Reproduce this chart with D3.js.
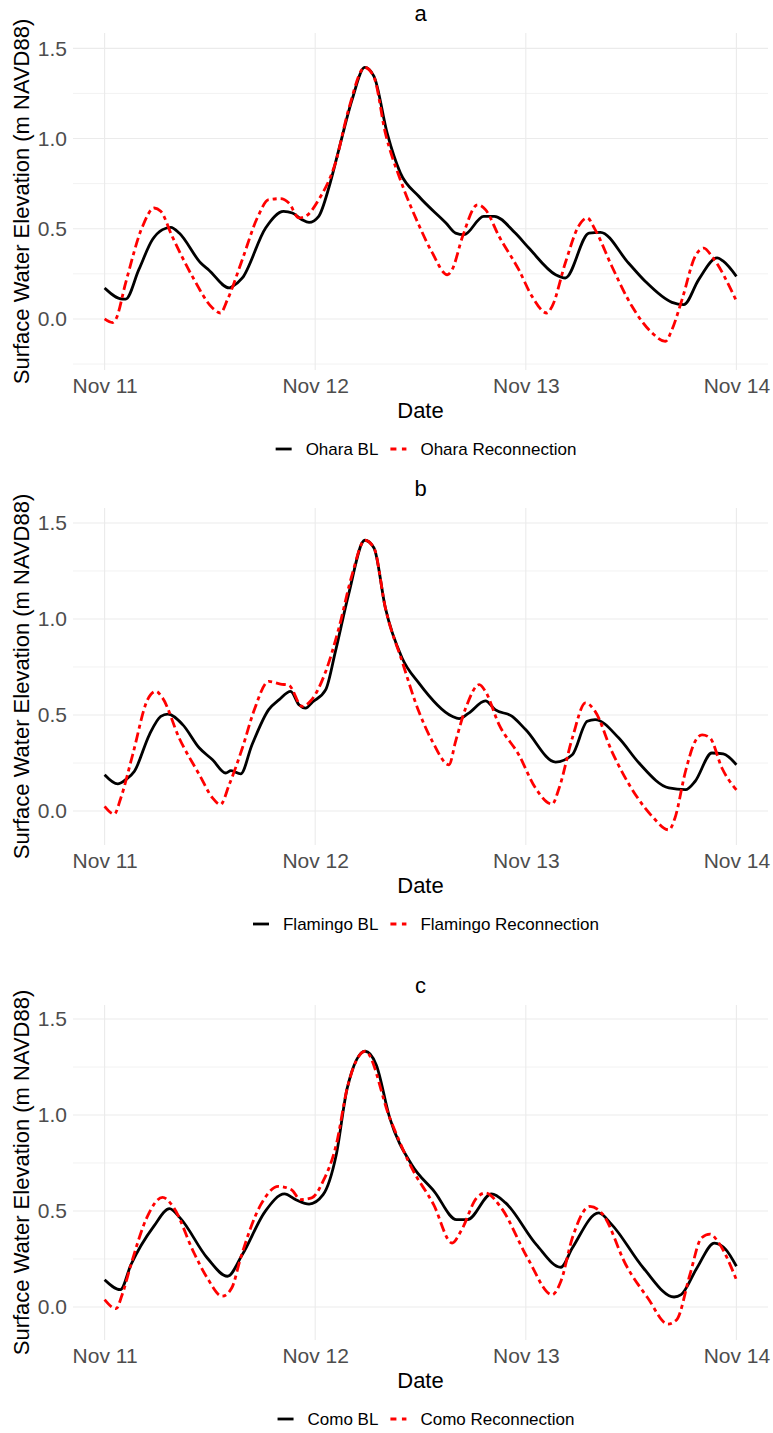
<!DOCTYPE html>
<html>
<head>
<meta charset="utf-8">
<script src="https://cdn.jsdelivr.net/npm/d3@7"></script>
<style>
  body { margin: 0; background: #fff; }
  text { font-family: "Liberation Sans", Arial, sans-serif; }
</style>
</head>
<body>
<div id="chart"></div>
<script>
const w = 773;
const h = 1433;

// data: [hours since Nov 11 00:00, surface water elevation (m NAVD88)]
const oharaBL = [[0,0.172],[2.05,0.11],[2.4,0.11],[3.9,0.273],[5.46,0.44],[6.6,0.495],[7.55,0.508],[8.5,0.476],
  [10.96,0.31],[11.9,0.27],[14.2,0.172],[14.56,0.18],[15.7,0.227],[18.35,0.504],[20.4,0.596],[21.4,0.587],
  [22.5,0.55],[23.3,0.535],[24.4,0.569],[25.6,0.735],[26.7,0.94],[28.2,1.215],[29.65,1.394],[30.7,1.345],
  [32.2,1.03],[33.7,0.81],[35.8,0.68],[38.9,0.532],[40.0,0.476],[40.95,0.467],[43.2,0.569],[44.4,0.569],
  [46.8,0.476],[48.35,0.393],[51.4,0.245],[52.5,0.227],[55.2,0.476],[56.5,0.48],[59.7,0.31],[61.6,0.209],
  [64.65,0.092],[66,0.079],[67.7,0.218],[69.8,0.338],[70.5,0.32],[72,0.236]];
const oharaRC = [[0,0.0],[0.9,-0.02],[1.3,0.0],[2.4,0.2],[4.3,0.51],[5.65,0.615],[6.4,0.597],[7.7,0.458],
  [10.0,0.236],[12.3,0.061],[13.2,0.033],[14.0,0.107],[15.7,0.33],[17.4,0.56],[18.7,0.661],[20.05,0.667],
  [21.0,0.643],[22.15,0.56],[22.9,0.569],[24.4,0.661],[26.3,0.864],[27.8,1.16],[29.65,1.394],[30.7,1.34],
  [32.0,1.03],[33.7,0.772],[35.8,0.522],[37.35,0.366],[39.05,0.245],[39.6,0.273],[40.8,0.458],[42.5,0.633],
  [43.4,0.606],[44.95,0.458],[47.2,0.273],[48.7,0.126],[50.4,0.033],[51.0,0.07],[52.5,0.31],[54.0,0.513],
  [55.0,0.56],[55.9,0.495],[57.8,0.292],[60.1,0.07],[62.4,-0.078],[63.9,-0.124],[64.65,-0.06],[65.8,0.107],
  [67.3,0.347],[68.3,0.393],[69.2,0.347],[72,0.1]];
const flamingoBL = [[0,0.189],[1.5,0.141],[2.4,0.163],[3.4,0.207],[5.1,0.397],[6.4,0.493],[7.2,0.505],[8.9,0.45],
  [10.8,0.328],[12.3,0.267],[13.8,0.198],[14.4,0.21],[15.5,0.193],[16.8,0.345],[18.7,0.528],[19.9,0.58],
  [21.2,0.623],[22.15,0.553],[22.9,0.536],[23.7,0.568],[25.2,0.632],[26.3,0.83],[27.8,1.127],[29.65,1.41],
  [30.7,1.37],[32.0,1.057],[33.9,0.797],[35.8,0.667],[39.6,0.493],[40.4,0.481],[41.5,0.51],[43.4,0.574],
  [44.5,0.528],[46.45,0.493],[48.0,0.423],[51.4,0.255],[53.3,0.293],[55.0,0.467],[55.9,0.476],[58.6,0.38],
  [60.9,0.25],[64.3,0.12],[66.2,0.111],[67.3,0.155],[69.2,0.302],[70.5,0.297],[72,0.241]];
const flamingoRC = [[0,0.024],[1.1,-0.016],[1.85,0.068],[3.2,0.293],[4.9,0.58],[5.85,0.623],[6.6,0.589],[8.5,0.38],
  [10.8,0.189],[12.3,0.068],[13.2,0.033],[14.2,0.137],[15.7,0.328],[17.0,0.519],[18.7,0.675],[20.05,0.661],
  [21.0,0.655],[22.5,0.545],[23.5,0.574],[25.2,0.727],[26.7,0.953],[28.2,1.23],[29.65,1.41],[30.7,1.37],
  [32.0,1.057],[33.9,0.78],[35.8,0.519],[37.35,0.363],[39.25,0.241],[40.0,0.363],[41.15,0.536],[42.7,0.658],
  [43.4,0.623],[44.95,0.45],[47.2,0.293],[49.1,0.12],[51.0,0.036],[51.8,0.12],[53.3,0.38],[54.8,0.563],
  [55.9,0.519],[57.8,0.311],[60.5,0.085],[62.4,-0.028],[64.3,-0.098],[65.0,-0.036],[66.2,0.207],[67.3,0.363],
  [68.1,0.397],[69.0,0.38],[70.35,0.224],[72,0.11]];
const comoBL = [[0,0.142],[1.8,0.09],[3.0,0.22],[5.6,0.42],[7.4,0.512],[8.6,0.464],[11.7,0.255],[14.0,0.16],
  [15.7,0.273],[18.3,0.498],[20.5,0.589],[21.8,0.559],[23.3,0.536],[24.9,0.585],[26.4,0.793],[27.65,1.14],
  [29.7,1.332],[30.95,1.262],[32.5,0.984],[35.0,0.741],[37.6,0.6],[40.1,0.455],[41.35,0.455],[44.1,0.589],
  [45.7,0.542],[49.2,0.325],[52.0,0.207],[53.3,0.307],[56.3,0.49],[57.8,0.429],[61.4,0.203],[64.9,0.052],
  [65.7,0.064],[67.5,0.203],[69.5,0.333],[70.8,0.299],[72,0.212]];
const comoRC = [[0,0.038],[1.3,-0.009],[2.0,0.064],[3.0,0.22],[4.8,0.464],[6.6,0.571],[7.9,0.516],[10.1,0.29],
  [11.7,0.151],[13.4,0.056],[14.5,0.1],[15.5,0.255],[17.8,0.533],[19.8,0.628],[21.3,0.611],[22.3,0.559],
  [23.6,0.568],[24.9,0.655],[26.4,0.845],[27.65,1.14],[29.7,1.332],[32.5,0.984],[35.0,0.724],[37.5,0.533],
  [39.6,0.333],[40.6,0.394],[42.4,0.568],[43.4,0.594],[45.2,0.516],[48.2,0.255],[51.0,0.064],[52.0,0.134],
  [53.3,0.359],[55.3,0.524],[56.8,0.481],[59.4,0.22],[61.9,0.047],[64.2,-0.089],[65.2,-0.066],[66.7,0.168],
  [68.0,0.359],[69.0,0.38],[70.0,0.333],[72,0.142]];

const panelTitles = ["a", "b", "c"];
const siteNames = ["Ohara", "Flamingo", "Como"];
const seriesBL = [oharaBL, flamingoBL, comoBL];
const seriesRC = [oharaRC, flamingoRC, comoRC];
const yTicks = [0.0, 0.5, 1.0, 1.5];
const yMinor = [-0.25, 0.25, 0.75, 1.25];
const yLimits = [[-0.283, 1.585], [-0.177, 1.578], [-0.172, 1.573]];
const xTickDays = ["2020-11-11", "2020-11-12", "2020-11-13", "2020-11-14"];

const t0 = new Date(Date.UTC(2020, 10, 11));
const toDate = hr => new Date(t0.getTime() + hr * 3600e3);

const panelTop = [33, 508, 1005];
const panelBottom = [370, 845, 1340];
const left = 73, right = 768;

const svg = d3.select("#chart").append("svg")
    .attr("width", w).attr("height", h)
    .style("background-color", "#fff");

const x = d3.scaleUtc().domain([toDate(-3.6), toDate(75.6)]).range([left, right]);
const xMajor = xTickDays.map(s => new Date(s + "T00:00:00Z"));
const xMinor = d3.utcHours(toDate(-3.6), toDate(75.6), 12).filter(d => d.getUTCHours() === 12);
const fmt = d3.utcFormat("%b %d");

panelTitles.forEach(function(title, i) {
    const top = panelTop[i], bottom = panelBottom[i];
    const y = d3.scaleLinear().domain(yLimits[i]).range([bottom, top]);
    const g = svg.append("g");

    // grid
    g.selectAll(".ymin").data(yMinor.filter(v => v >= yLimits[i][0])).enter().append("line")
        .attr("x1", left).attr("x2", right)
        .attr("y1", d => y(d)).attr("y2", d => y(d))
        .attr("stroke", "#f2f2f2").attr("stroke-width", 1);
    g.selectAll(".xmin").data(xMinor).enter().append("line")
        .attr("x1", d => x(d)).attr("x2", d => x(d))
        .attr("y1", top).attr("y2", bottom)
        .attr("stroke", "#f2f2f2").attr("stroke-width", 1);
    g.selectAll(".ymaj").data(yTicks).enter().append("line")
        .attr("x1", left).attr("x2", right)
        .attr("y1", d => y(d)).attr("y2", d => y(d))
        .attr("stroke", "#ebebeb").attr("stroke-width", 1.1);
    g.selectAll(".xmaj").data(xMajor).enter().append("line")
        .attr("x1", d => x(d)).attr("x2", d => x(d))
        .attr("y1", top).attr("y2", bottom)
        .attr("stroke", "#ebebeb").attr("stroke-width", 1.1);

    // axes
    const yAxis = d3.axisLeft(y).tickValues(yTicks).tickFormat(d3.format(".1f")).tickSize(0).tickPadding(6);
    g.append("g").attr("transform", "translate(" + left + ",0)").call(yAxis)
        .call(a => a.select(".domain").remove())
        .selectAll("text").attr("fill", "#4d4d4d").style("font-size", "21px")
        .style("font-family", '"Liberation Sans", Arial, sans-serif');

    const xAxis = d3.axisBottom(x).tickValues(xMajor).tickFormat(fmt).tickSize(0).tickPadding(8);
    g.append("g").attr("transform", "translate(0," + bottom + ")").call(xAxis)
        .call(a => a.select(".domain").remove())
        .selectAll("text").attr("fill", "#4d4d4d").style("font-size", "21px")
        .style("font-family", '"Liberation Sans", Arial, sans-serif');

    // lines
    const line = d3.line()
        .x(d => x(toDate(d[0])))
        .y(d => y(d[1]))
        .curve(d3.curveMonotoneX);

    g.append("path").datum(seriesBL[i])
        .attr("d", line).attr("fill", "none")
        .attr("stroke", "#000").attr("stroke-width", 2.8)
        .attr("stroke-linejoin", "round");
    g.append("path").datum(seriesRC[i])
        .attr("d", line).attr("fill", "none")
        .attr("stroke", "#ff0000").attr("stroke-width", 2.8)
        .attr("stroke-dasharray", "10,4,4,4");

    // titles
    const mid = (left + right) / 2;
    g.append("text").text(title)
        .attr("x", mid).attr("y", top - 12)
        .attr("text-anchor", "middle").style("font-size", "22px");
    g.append("text").text("Date")
        .attr("x", mid).attr("y", bottom + 48)
        .attr("text-anchor", "middle").style("font-size", "22px");
    g.append("text").text("Surface Water Elevation (m NAVD88)")
        .attr("transform", "translate(29," + ((top + bottom) / 2) + ") rotate(-90)")
        .attr("text-anchor", "middle").style("font-size", "22px");

    // legend
    const ly = bottom + 79;
    const leg = g.append("g");
    const labels = [siteNames[i] + " BL", siteNames[i] + " Reconnection"];
    let cx = 0;
    labels.forEach(function(lab, j) {
        leg.append("line")
            .attr("x1", cx).attr("x2", cx + 16)
            .attr("y1", ly).attr("y2", ly)
            .attr("stroke", j === 0 ? "#000" : "#ff0000")
            .attr("stroke-width", 2.8)
            .attr("stroke-dasharray", j === 0 ? null : "6,5.5");
        const t = leg.append("text").text(lab)
            .attr("x", cx + 30).attr("y", ly + 6)
            .style("font-size", "17px");
        cx += 30 + t.node().getComputedTextLength() + 12;
    });
    const legW = cx - 12;
    leg.attr("transform", "translate(" + (426 - legW / 2) + ",0)");
});
</script>
</body>
</html>
